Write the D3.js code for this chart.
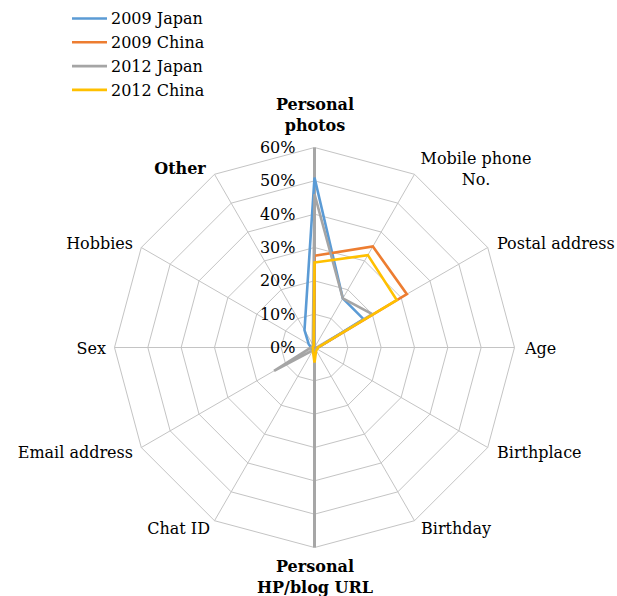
<!DOCTYPE html>
<html>
<head>
<meta charset="utf-8">
<script src="https://cdn.jsdelivr.net/npm/d3@7"></script>
<style>
  html, body { margin: 0; padding: 0; background: #fff; }
  svg { display: block; }
  text { font-family: "DejaVu Serif", serif; fill: #000; }
</style>
</head>
<body>
<svg id="chart" width="617" height="596"></svg>
<script>
const categories = ["Personal photos", "Mobile phone No.", "Postal address", "Age", "Birthplace", "Birthday",
  "Personal HP/blog URL", "Chat ID", "Email address", "Sex", "Hobbies", "Other"];
const seriesNames = ["2009 Japan", "2009 China", "2012 Japan", "2012 China"];
const japan2009 = [51, 17, 17, 1, 0.5, 0.5, 1, 0.5, 1, 1, 2, 6];
const china2009 = [27.5, 35, 32, 1, 0.5, 0.5, 2, 0.5, 0.5, 0.5, 0.5, 0.5];
const japan2012 = [46, 17, 20, 1, 0.5, 0.5, 1, 1, 14, 1, 0.5, 1];
const china2012 = [25.5, 32, 28.5, 1, 1, 1, 4.5, 1, 0.5, 0.5, 0.5, 0.5];
const tickValues = [0, 10, 20, 30, 40, 50, 60];
const tickLabels = ["0%", "10%", "20%", "30%", "40%", "50%", "60%"];
const seriesColors = ["#5b9bd5", "#ed7d31", "#a5a5a5", "#ffc000"];

const allSeries = [japan2009, china2009, japan2012, china2012];
const cx = 314.5, cy = 347.5, R = 200;
const svg = d3.select("#chart");
const g = svg.append("g").attr("transform", `translate(${cx},${cy})`);

const r = d3.scaleLinear().domain([0, 60]).range([0, R]);
const angle = d3.scaleLinear().domain([0, categories.length]).range([0, 2 * Math.PI]);
const pt = (i, v) => [Math.sin(angle(i)) * r(v), -Math.cos(angle(i)) * r(v)];

// grid polygons
tickValues.slice(1).forEach(t => {
  g.append("path")
    .attr("d", d3.lineRadial().angle((d, i) => angle(i)).radius(() => r(t)).curve(d3.curveLinearClosed)(categories))
    .attr("fill", "none").attr("stroke", "#c4c4c4").attr("stroke-width", 1);
});
// spokes
categories.forEach((c, i) => {
  if (i === 0 || i === 6) return;
  const p = pt(i, 60);
  g.append("line").attr("x1", 0).attr("y1", 0).attr("x2", p[0]).attr("y2", p[1])
    .attr("stroke", "#c4c4c4").attr("stroke-width", 1);
});
// main vertical axis
g.append("line").attr("x1", 0).attr("y1", -r(60)).attr("x2", 0).attr("y2", r(60))
  .attr("stroke", "#a6a6a6").attr("stroke-width", 3);

// tick labels
tickValues.forEach((t, i) => {
  g.append("text").attr("x", -19).attr("y", -r(t)).attr("dy", "0.35em")
    .attr("text-anchor", "end").style("font-size", "16px").text(tickLabels[i]);
});

// series
allSeries.forEach((s, k) => {
  g.append("path")
    .attr("d", d3.lineRadial().angle((d, i) => angle(i)).radius(d => r(d)).curve(d3.curveLinearClosed)(s))
    .attr("fill", "none").attr("stroke", seriesColors[k]).attr("stroke-width", 2.6)
    .attr("stroke-linejoin", "miter");
});

// category labels (absolute positions)
const labelSpecs = [
  { lines: ["Personal", "photos"], x: 315, y: 104, anchor: "middle", bold: true },
  { lines: ["Mobile phone", "No."], x: 476, y: 158, anchor: "middle" },
  { lines: ["Postal address"], x: 497, y: 243, anchor: "start" },
  { lines: ["Age"], x: 525, y: 348, anchor: "start" },
  { lines: ["Birthplace"], x: 497, y: 452, anchor: "start" },
  { lines: ["Birthday"], x: 421, y: 528, anchor: "start" },
  { lines: ["Personal", "HP/blog URL"], x: 315, y: 566, anchor: "middle", bold: true },
  { lines: ["Chat ID"], x: 210, y: 528, anchor: "end" },
  { lines: ["Email address"], x: 133, y: 452, anchor: "end" },
  { lines: ["Sex"], x: 106, y: 348, anchor: "end" },
  { lines: ["Hobbies"], x: 133, y: 243, anchor: "end" },
  { lines: ["Other"], x: 180, y: 168, anchor: "middle", bold: true }
];
labelSpecs.forEach((L, i) => {
  const t = svg.append("text").attr("text-anchor", L.anchor).style("font-size", "16px")
    .style("font-weight", L.bold ? "bold" : "normal");
  L.lines.forEach((ln, j) => {
    t.append("tspan").attr("x", L.x).attr("y", L.y + j * 21).attr("dy", "0.35em")
      .text(j === 0 && L.lines.length === 1 ? categories[i] : ln);
  });
});

// legend
seriesNames.forEach((n, k) => {
  const y = 18.5 + k * 23.8;
  svg.append("line").attr("x1", 72).attr("x2", 107).attr("y1", y).attr("y2", y)
    .attr("stroke", seriesColors[k]).attr("stroke-width", 2.6);
  svg.append("text").attr("x", 111).attr("y", y).attr("dy", "0.35em")
    .style("font-size", "16px").text(n);
});
</script>
</body>
</html>
